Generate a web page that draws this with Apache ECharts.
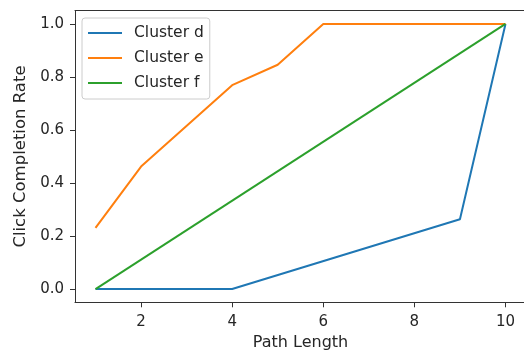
<!DOCTYPE html>
<html>
<head>
<meta charset="utf-8">
<script src="https://cdn.jsdelivr.net/npm/echarts@6/dist/echarts.min.js"></script>
<style>
  html, body { margin: 0; padding: 0; background: #fff; }
  #chart { width: 524px; height: 352px; }
</style>
</head>
<body>
<div id="chart"></div>
<script>
// Click completion rate by path length for three clusters
const seriesNames = ['Cluster d', 'Cluster e', 'Cluster f'];
const pathD = [1, 2, 4, 9, 10];
const rateD = [0.0, 0.0, 0.0, 0.263, 1.0];
const pathE = [1, 2, 4, 5, 6, 10];
const rateE = [0.231, 0.462, 0.769, 0.846, 1.0, 1.0];
const pathF = [1, 10];
const rateF = [0.0, 1.0];
const xTicks = [2, 4, 6, 8, 10];
const yTicks = [0.0, 0.2, 0.4, 0.6, 0.8, 1.0];
const colors = ['#1f77b4', '#ff7f0e', '#2ca02c'];

const pairs = (xs, ys) => xs.map((x, i) => [x, ys[i]]);
const FONT = 'DejaVu Sans';
const TEXT = '#262626';
const SPINE = { show: true, onZero: false, lineStyle: { color: '#333', width: 1 } };

const chart = echarts.init(document.getElementById('chart'), null, { renderer: 'canvas' });
const lineSeries = [pairs(pathD, rateD), pairs(pathE, rateE), pairs(pathF, rateF)].map((data, i) => ({
  name: seriesNames[i],
  type: 'line',
  data: data,
  symbol: 'none',
  lineStyle: { color: colors[i], width: 2 },
  itemStyle: { color: colors[i] },
  animation: false
}));

chart.setOption({
  animation: false,
  grid: {
    left: 75, top: 10.7, width: 451, height: 291.6,
    containLabel: false,
    outerBoundsMode: 'none',
    show: false
  },
  legend: {
    orient: 'vertical',
    left: 82, top: 18,
    icon: 'rect',
    itemWidth: 34, itemHeight: 2,
    itemGap: 7,
    padding: [6, 6, 7, 6],
    backgroundColor: 'rgba(255,255,255,0.8)',
    borderColor: '#cccccc', borderWidth: 1, borderRadius: 3,
    textStyle: { fontFamily: FONT, fontSize: 15.5, color: TEXT, lineHeight: 18, padding: [0, 0, 0, 7] },
    data: seriesNames
  },
  xAxis: [{
    type: 'value',
    position: 'bottom',
    min: 0.55, max: 10.45,
    name: 'Path Length',
    nameLocation: 'middle',
    nameGap: 33,
    nameTextStyle: { fontFamily: FONT, fontSize: 16, color: TEXT },
    axisLine: SPINE,
    axisTick: { show: true, inside: false, length: 5, customValues: xTicks, lineStyle: { color: '#333', width: 1 } },
    axisLabel: { customValues: xTicks, margin: 12, fontFamily: FONT, fontSize: 15, color: TEXT },
    splitLine: { show: false }
  }, {
    // top spine
    type: 'value',
    position: 'top',
    min: 0.55, max: 10.45,
    axisLine: SPINE,
    axisTick: { show: false },
    axisLabel: { show: false },
    splitLine: { show: false }
  }],
  yAxis: {
    type: 'value',
    position: 'left',
    min: -0.05, max: 1.05,
    name: 'Click Completion Rate',
    nameLocation: 'middle',
    nameGap: 44,
    nameRotate: 90,
    nameTextStyle: { fontFamily: FONT, fontSize: 16.5, color: TEXT },
    axisLine: SPINE,
    axisTick: { show: true, inside: false, length: 5, customValues: yTicks, lineStyle: { color: '#333', width: 1 } },
    axisLabel: {
      customValues: yTicks, margin: 11, fontFamily: FONT, fontSize: 15, color: TEXT,
      formatter: v => v.toFixed(1)
    },
    splitLine: { show: false }
  },
  series: lineSeries
});
</script>
</body>
</html>
